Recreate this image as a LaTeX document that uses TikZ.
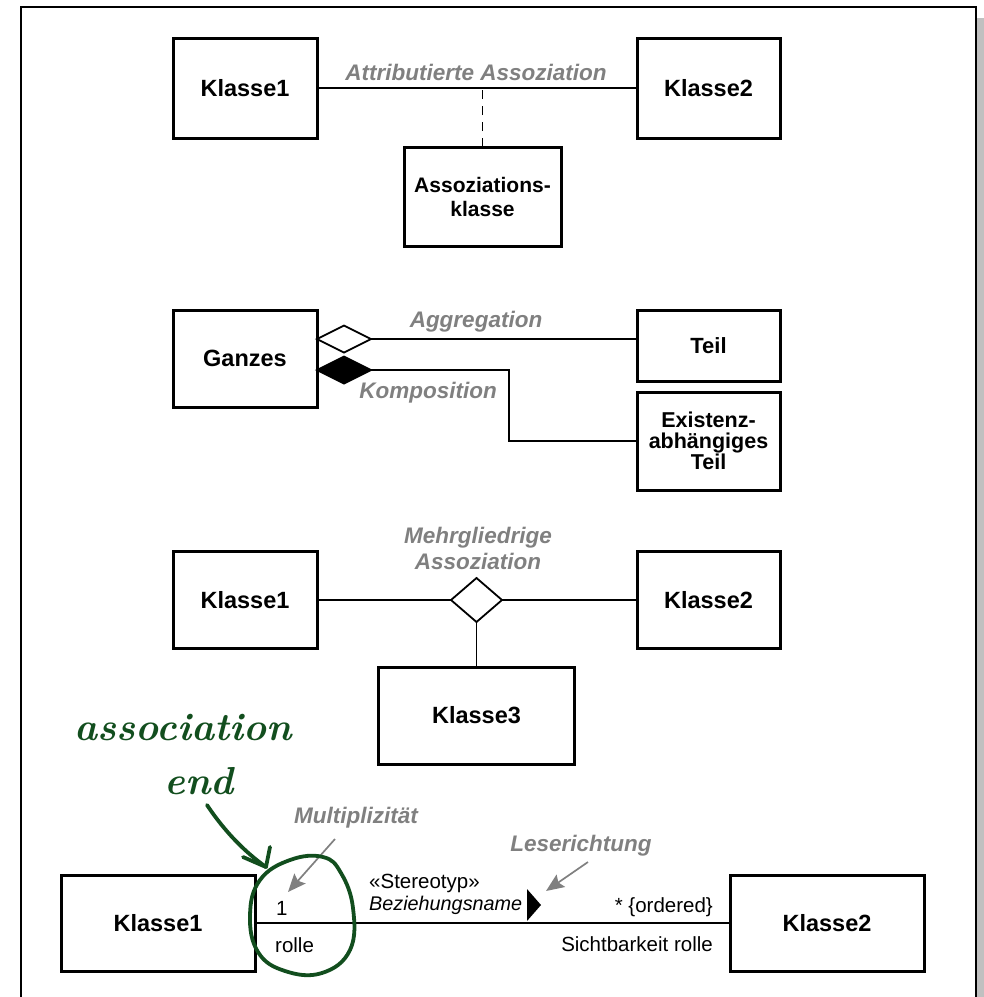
\documentclass[tikz,border=0pt]{standalone}
\usepackage{fontspec}
\setmainfont{Liberation Sans}
\newfontfamily\handfont{Latin Modern Roman}
\usetikzlibrary{shapes.geometric,arrows.meta}
\definecolor{lbl}{RGB}{128,128,128}
\definecolor{hand}{RGB}{18,78,30}
\definecolor{shadowgray}{RGB}{192,192,192}
\begin{document}
\begin{tikzpicture}[x=1pt,y=-1pt,
 umlbox/.style={draw, line width=3pt, inner sep=0pt, outer sep=0pt, align=center, font=\fontsize{23.5}{25}\selectfont\bfseries},
 conn/.style={line width=1.7pt},
 glabel/.style={text=lbl, font=\fontsize{22.5}{26}\selectfont\bfseries\itshape, inner sep=0pt, align=center},
 plain/.style={font=\fontsize{20.5}{24}\selectfont, inner sep=0pt},
 garrow/.style={draw=lbl, line width=1.7pt, -{Stealth[length=18pt,width=15pt,inset=3pt]}},
 udiamond/.style={diamond, draw, line width=1.8pt, inner sep=0pt, outer sep=0pt, minimum width=54pt, minimum height=27pt},
 handline/.style={draw=hand, line width=3.8pt, line cap=round, line join=round},
]
\useasboundingbox (0,0) rectangle (984,997);
\fill[shadowgray] (977,18) rectangle (984,997);
\draw[line width=2.2pt] (21,1010) -- (21,7) -- (976,7) -- (976,1010);

% --- Attributierte Assoziation
\node[umlbox, minimum width=144pt, minimum height=100pt] (k1a) at (245,88) {Klasse1};
\node[umlbox, minimum width=143pt, minimum height=100pt] (k2a) at (708.5,88) {Klasse2};
\node[umlbox, minimum width=157pt, minimum height=99pt, font=\fontsize{21}{24}\selectfont\bfseries] (ak) at (482.5,196.5) {Assoziations-\\klasse};
\draw[conn] (k1a) -- (k2a);
\draw[conn, dash pattern=on 9pt off 7pt] (ak.north) -- (ak.north |- k1a.east);
\node[glabel] (lattr) at (476,72) {Attributierte Assoziation};

% --- Aggregation / Komposition
\node[umlbox, minimum width=144pt, minimum height=97pt] (ganz) at (245,358.5) {Ganzes};
\node[umlbox, minimum width=143pt, minimum height=71pt, font=\fontsize{22}{24}\selectfont\bfseries] (teil) at (708.5,345.5) {Teil};
\node[umlbox, minimum width=143pt, minimum height=98pt, font=\fontsize{21.5}{21}\selectfont\bfseries] (exist) at (708.5,441) {Existenz-\\abhängiges\\Teil};
\coordinate (aggpt) at (317,339);
\coordinate (kompt) at (317,370);
\node[udiamond, fill=white, anchor=west] (dagg) at (aggpt) {};
\node[udiamond, fill=black, anchor=west] (dkomp) at (kompt) {};
\draw[conn] (dagg.east) -- (dagg.east -| teil.west);
\draw[conn] (dkomp.east) -- ++(138,0) |- (exist.west);
\node[glabel] (lagg) at (476,322) {Aggregation};
\node[glabel] (lkomp) at (428,393) {Komposition};

% --- Mehrgliedrige Assoziation
\node[umlbox, minimum width=144pt, minimum height=97pt] (k1b) at (245,600) {Klasse1};
\node[umlbox, minimum width=143pt, minimum height=97pt] (k2b) at (708.5,600) {Klasse2};
\node[umlbox, minimum width=196pt, minimum height=97pt] (k3) at (476.5,715.5) {Klasse3};
\node[diamond, draw, line width=1.8pt, fill=white, inner sep=0pt, outer sep=0pt, minimum width=51pt, minimum height=44pt] (dm) at (476.5,600) {};
\draw[conn] (k1b.east) -- (dm.west);
\draw[conn] (dm.east) -- (k2b.west);
\draw[conn] (dm.south) -- (k3.north);
\node[glabel] (lmehr) at (478,548) {Mehrgliedrige\\Assoziation};

% --- Assoziationsende
\node[umlbox, minimum width=194pt, minimum height=96pt] (k1c) at (158,923) {Klasse1};
\node[umlbox, minimum width=194pt, minimum height=96pt] (k2c) at (827,923) {Klasse2};
\draw[conn] (k1c) -- (k2c);
\node[plain, anchor=base west] (mult) at (276,915) {1};
\node[plain, anchor=base west] (rolle1) at (275,952) {rolle};
\node[plain, anchor=base west] (stereo) at (369,888) {«Stereotyp»};
\node[plain, anchor=base west, font=\fontsize{19.8}{24}\selectfont\itshape] (bez) at (369,910) {Beziehungsname};
\node[plain, anchor=base east] (ord) at (713,912) {* \{ordered\}};
\node[plain, anchor=base east] (sicht) at (713,951) {Sichtbarkeit rolle};
\fill (527,889) -- (541,905) -- (527,921) -- cycle;
\node[glabel] (lmult) at (356,818) {Multiplizität};
\node[glabel] (lles) at (581,846) {Leserichtung};
\coordinate (m0) at (335,839);
\coordinate (m1) at (288,892);
\coordinate (l0) at (588,862);
\coordinate (l1) at (546,891);
\draw[garrow] (m0) -- (m1);
\draw[garrow] (l0) -- (l1);

% --- handwritten annotation
\node[text=hand, font=\handfont\bfseries\itshape\fontsize{39}{40}\selectfont, inner sep=0pt] (hassoc) at (183,728) {association};
\node[text=hand, font=\handfont\bfseries\itshape\fontsize{39}{40}\selectfont, inner sep=0pt] (hend) at (199,781) {end};
\coordinate (h0) at (207,805);
\coordinate (h1) at (266,867);
\coordinate (hb1) at (243,857);
\coordinate (hb2) at (270,847);
\draw[handline] (h0) .. controls (225,832) and (245,852) .. (h1);
\draw[handline] (hb1) -- (h1) -- (hb2);
\draw[handline] plot[smooth cycle, tension=0.7] coordinates {(290,860) (323,857) (341,873) (353,908) (350,950) (322,973) (285,971) (258,952) (250,915) (260,880)};
\end{tikzpicture}
\end{document}
